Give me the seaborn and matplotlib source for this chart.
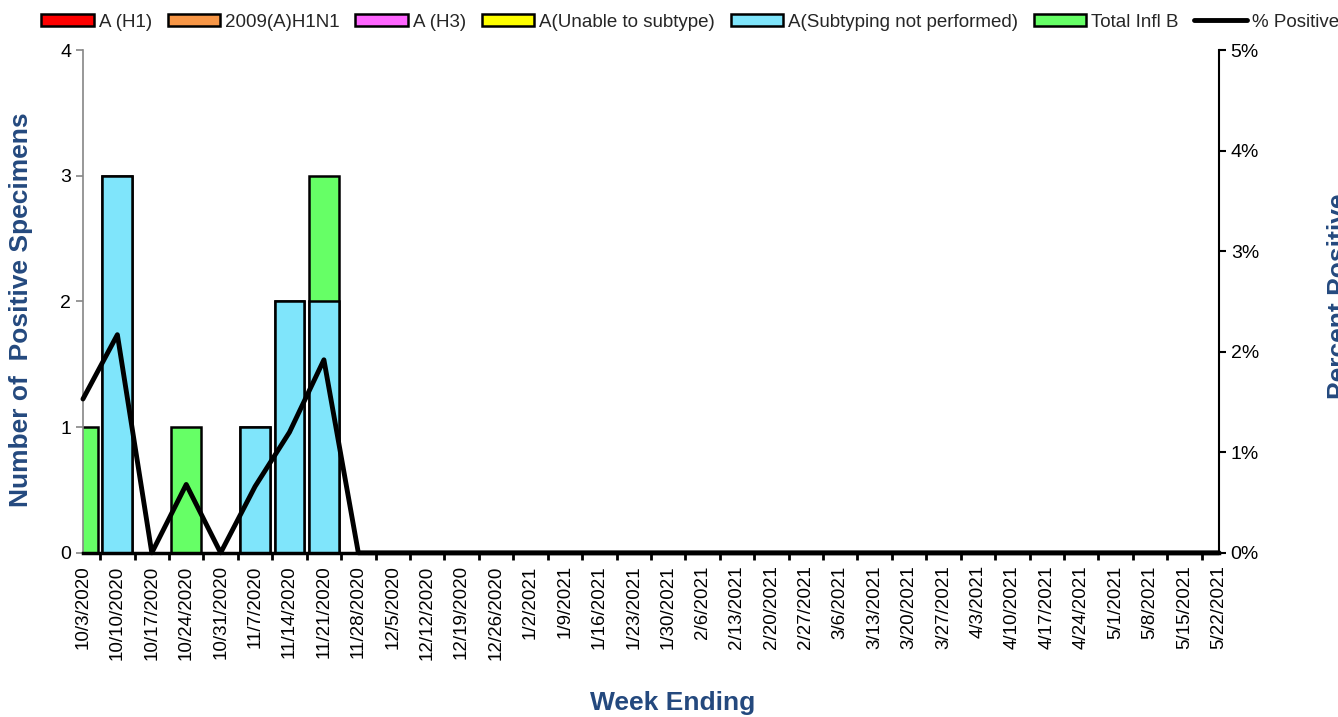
import numpy as np
import pandas as pd
import matplotlib
matplotlib.use("Agg")
import matplotlib.pyplot as plt
import matplotlib.patches as mpatches
import matplotlib.lines as mlines
from matplotlib.ticker import FuncFormatter, MultipleLocator
import seaborn as sns

# Data
weeks = ["10/3/2020", "10/10/2020", "10/17/2020", "10/24/2020", "10/31/2020",
         "11/7/2020", "11/14/2020", "11/21/2020", "11/28/2020", "12/5/2020",
         "12/12/2020", "12/19/2020", "12/26/2020", "1/2/2021", "1/9/2021",
         "1/16/2021", "1/23/2021", "1/30/2021", "2/6/2021", "2/13/2021",
         "2/20/2021", "2/27/2021", "3/6/2021", "3/13/2021", "3/20/2021",
         "3/27/2021", "4/3/2021", "4/10/2021", "4/17/2021", "4/24/2021",
         "5/1/2021", "5/8/2021", "5/15/2021", "5/22/2021"]
n = len(weeks)
a_h1 = [0] * n
a_2009 = [0] * n
a_h3 = [0] * n
a_unable = [0] * n
a_not_sub = [0, 3, 0, 0, 0, 1, 2, 2] + [0] * (n - 8)
infl_b = [1, 0, 0, 1, 0, 0, 0, 1] + [0] * (n - 8)
pct_pos = [1.53, 2.17, 0, 0.68, 0, 0.66, 1.2, 1.92] + [0] * (n - 8)

series_names = ["A (H1)", "2009(A)H1N1", "A (H3)", "A(Unable to subtype)",
                "A(Subtyping not performed)", "Total Infl B"]
series_vals = [a_h1, a_2009, a_h3, a_unable, a_not_sub, infl_b]
colors = ["#FF0000", "#F79646", "#FF66FF", "#FFFF00", "#7FE5FB", "#66FF66"]

sns.set_style("white")
plt.rcParams["font.family"] = ["Liberation Sans", "DejaVu Sans"]
title_color = "#24497E"

fig = plt.figure(figsize=(13.38, 7.17), dpi=100)
ax = fig.add_axes([0.062, 0.229, 0.849, 0.701])

# Stacked bars: draw cumulative totals from top to bottom
cum = np.cumsum(np.array(series_vals), axis=0)
for i in range(len(series_names) - 1, -1, -1):
    df = pd.DataFrame({"week": weeks, "val": cum[i]})
    sns.barplot(data=df, x="week", y="val", order=weeks, color=colors[i],
                saturation=1, width=0.87, edgecolor="black", linewidth=1.8,
                ax=ax, zorder=2)

ax.set_xlim(0, n - 1)
ax.set_ylim(0, 4)
ax.yaxis.set_major_locator(MultipleLocator(1))
ax.set_xlabel("")
ax.set_ylabel("")
ax.tick_params(axis="x", labelrotation=90, labelsize=13.5, length=5, width=2,
               color="black", labelcolor="black", direction="out", pad=4)
ax.xaxis.set_minor_locator(MultipleLocator(0.5))
ax.tick_params(axis="x", which="minor", length=5, width=2, color="black",
               direction="out", bottom=True)
ax.tick_params(axis="y", labelsize=14, length=5, width=1.2, color="#868686",
               labelcolor="black", direction="out", left=True)
for s in ["top", "right"]:
    ax.spines[s].set_visible(False)
ax.spines["left"].set_color("#868686")
ax.spines["left"].set_linewidth(1.2)
ax.spines["bottom"].set_color("black")
ax.spines["bottom"].set_linewidth(2.5)
ax.spines["bottom"].set_zorder(5)

# Percent positive line on right axis
ax2 = ax.twinx()
sns.lineplot(x=np.arange(n), y=pct_pos, color="black", linewidth=3.5, ax=ax2,
             zorder=4, clip_on=False)
ax2.set_ylim(0, 5)
ax2.set_xlim(0, n - 1)
ax2.yaxis.set_major_locator(MultipleLocator(1))
ax2.yaxis.set_major_formatter(FuncFormatter(lambda v, p: f"{v:.0f}%"))
ax2.tick_params(axis="y", labelsize=14, length=5, width=1.5, color="black",
                labelcolor="black", direction="out", right=True)
for s in ["top", "left", "bottom"]:
    ax2.spines[s].set_visible(False)
ax2.spines["right"].set_color("black")
ax2.spines["right"].set_linewidth(1.5)
ax2.set_ylabel("")

# Axis titles
fig.text(0.016, 0.568, "Number of  Positive Specimens", rotation=90, fontsize=19,
         fontweight="bold", color=title_color, ha="center", va="center")
fig.text(0.503, 0.019, "Week Ending", fontsize=19, fontweight="bold",
         color=title_color, ha="center", va="center")
fig.text(0.9915, 0.587, "Percent Positive", rotation=90, fontsize=19,
         fontweight="bold", color=title_color, ha="left", va="center")

# Legend
handles = [mpatches.Patch(facecolor=c, edgecolor="black", linewidth=1.8, label=l)
           for c, l in zip(colors, series_names)]
handles.append(mlines.Line2D([], [], color="black", linewidth=3.5, label="% Positive"))
fig.legend(handles=handles, loc="center left", bbox_to_anchor=(0.031, 0.969),
           ncol=7, frameon=False, fontsize=13.5, handlelength=2.8,
           handleheight=0.6, handletextpad=0.25, columnspacing=0.85,
           borderpad=0, borderaxespad=0)

plt.savefig("out.png", dpi=100)
